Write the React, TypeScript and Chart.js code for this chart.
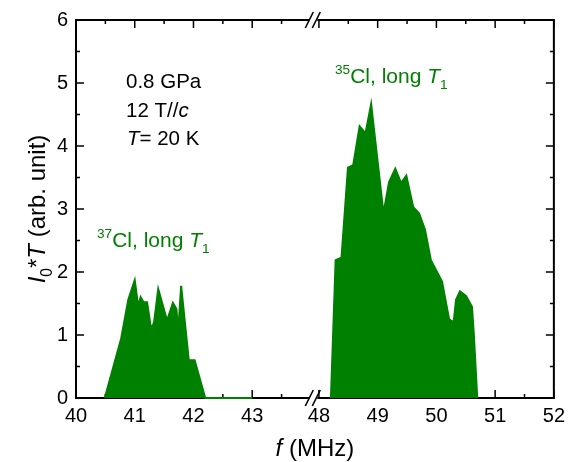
import React, { useEffect, useRef } from 'react';
import { Chart, registerables } from 'chart.js';

Chart.register(...registerables);

// ---- Data ----
// 37Cl line, long T1
const freq37 = [40.49, 40.77, 40.89, 41.0, 41.06, 41.1, 41.15, 41.21, 41.27, 41.3, 41.33, 41.4, 41.55, 41.65, 41.71, 41.74, 41.79, 41.92, 42.02, 42.2, 43.0];
const int37 = [0, 0.95, 1.56, 1.87, 1.45, 1.6, 1.52, 1.52, 1.15, 1.13, 1.21, 1.73, 1.23, 1.51, 1.41, 1.05, 1.78, 0.6, 0.6, 0, 0];
// 35Cl line, long T1
const freq35 = [48.2, 48.28, 48.38, 48.49, 48.58, 48.69, 48.79, 48.89, 49.1, 49.19, 49.3, 49.4, 49.49, 49.61, 49.71, 49.81, 49.91, 50.1, 50.22, 50.29, 50.33, 50.4, 50.51, 50.61, 50.64, 50.7];
const int35 = [0, 2.19, 2.23, 3.66, 3.7, 4.32, 4.21, 4.69, 2.96, 3.43, 3.65, 3.42, 3.54, 3.03, 2.93, 2.67, 2.19, 1.85, 1.25, 1.21, 1.56, 1.7, 1.62, 1.45, 1.03, 0];

// Axis ticks (broken x axis: 40–43 | 48–52)
const xMajorTicks = [40, 41, 42, 43, 48, 49, 50, 51, 52];
const xMinorTicks = [40.5, 41.5, 42.5, 43.5, 48.5, 49.5, 50.5, 51.5];
const yMajorTicks = [0, 1, 2, 3, 4, 5, 6];
const yMinorTicks = [0.5, 1.5, 2.5, 3.5, 4.5, 5.5];

// Axis break geometry (in frequency units)
const LEFT_END = 44.0; // left segment ends here
const BREAK_AT = 44.04; // where the // mark sits (axis units)
const RIGHT_START = 48; // right segment begins at this frequency
const RIGHT_POS = 44.136; // axis position of RIGHT_START
const toAxis = (f: number) => (f <= LEFT_END + 1 ? f : f - RIGHT_START + RIGHT_POS);

const GREEN = '#008000';
const FONT = '"Liberation Sans", Arial, sans-serif';

type Seg = { t: string; italic?: boolean; script?: 'sup' | 'sub' };

function drawRich(ctx: CanvasRenderingContext2D, segs: Seg[], x: number, y: number, size: number, align: 'left' | 'center', color: string) {
  const parts = segs.map((s) => {
    const fs = s.script ? size * 0.65 : size;
    const font = `${s.italic ? 'italic ' : ''}${fs}px ${FONT}`;
    ctx.font = font;
    const w = ctx.measureText(s.t).width;
    const dy = s.script === 'sup' ? -size * 0.42 : s.script === 'sub' ? size * 0.3 : 0;
    return { t: s.t, font, w, dy };
  });
  const total = parts.reduce((a, p) => a + p.w, 0);
  let cx = align === 'center' ? x - total / 2 : x;
  ctx.fillStyle = color;
  ctx.textAlign = 'left';
  ctx.textBaseline = 'alphabetic';
  parts.forEach((p) => {
    ctx.font = p.font;
    ctx.fillText(p.t, cx, y + p.dy);
    cx += p.w;
  });
}

const framePlugin = {
  id: 'frame',
  beforeDatasetsDraw(chart: any) {
    const { ctx, chartArea: a, scales } = chart;
    const xs = scales.x;
    const ys = scales.y;
    const bx = xs.getPixelForValue(BREAK_AT);
    ctx.save();
    ctx.strokeStyle = '#000';
    ctx.lineCap = 'butt';
    // frame
    ctx.lineWidth = 2;
    ctx.beginPath();
    ctx.moveTo(a.left, a.top);
    ctx.lineTo(a.left, a.bottom);
    ctx.moveTo(a.right, a.top);
    ctx.lineTo(a.right, a.bottom);
    for (const yy of [a.top, a.bottom]) {
      ctx.moveTo(a.left - 1, yy);
      ctx.lineTo(bx - 4, yy);
      ctx.moveTo(bx + 4, yy);
      ctx.lineTo(a.right + 1, yy);
    }
    ctx.stroke();
    // break marks
    ctx.lineWidth = 1.6;
    ctx.beginPath();
    for (const yy of [a.top, a.bottom]) {
      for (const off of [-4, 3]) {
        ctx.moveTo(bx + off - 4, yy + 8);
        ctx.lineTo(bx + off + 4, yy - 8);
      }
    }
    ctx.stroke();
    // ticks
    ctx.lineWidth = 1.5;
    ctx.beginPath();
    const xt = (vals: number[], len: number) => {
      vals.forEach((f) => {
        const px = xs.getPixelForValue(toAxis(f));
        ctx.moveTo(px, a.bottom);
        ctx.lineTo(px, a.bottom - len);
        ctx.moveTo(px, a.top);
        ctx.lineTo(px, a.top + len);
      });
    };
    const yt = (vals: number[], len: number) => {
      vals.forEach((v) => {
        const py = ys.getPixelForValue(v);
        ctx.moveTo(a.left, py);
        ctx.lineTo(a.left + len, py);
        ctx.moveTo(a.right, py);
        ctx.lineTo(a.right - len, py);
      });
    };
    xt(xMajorTicks, 8);
    xt(xMinorTicks, 4);
    yt(yMajorTicks, 8);
    yt(yMinorTicks, 4);
    ctx.stroke();
    ctx.restore();
  },
  afterDraw(chart: any) {
    const { ctx, chartArea: a } = chart;
    ctx.save();
    // conditions
    drawRich(ctx, [{ t: '0.8 GPa' }], 126, 88, 20.5, 'left', '#000');
    drawRich(ctx, [{ t: '12 T//' }, { t: 'c', italic: true }], 126, 117, 20.5, 'left', '#000');
    drawRich(ctx, [{ t: 'T', italic: true }, { t: '= 20 K' }], 127, 145, 20.5, 'left', '#000');
    // peak labels
    drawRich(ctx, [{ t: '37', script: 'sup' }, { t: 'Cl, long ' }, { t: 'T', italic: true }, { t: '1', script: 'sub' }], 97, 247, 21, 'left', GREEN);
    drawRich(ctx, [{ t: '35', script: 'sup' }, { t: 'Cl, long ' }, { t: 'T', italic: true }, { t: '1', script: 'sub' }], 335, 83, 21, 'left', GREEN);
    // x title
    drawRich(ctx, [{ t: 'f', italic: true }, { t: ' (MHz)' }], (a.left + a.right) / 2, 456, 24, 'center', '#000');
    // y title
    ctx.translate(45, (a.top + a.bottom) / 2);
    ctx.rotate(-Math.PI / 2);
    drawRich(ctx, [{ t: 'I', italic: true }, { t: '0', script: 'sub' }, { t: '*' }, { t: 'T', italic: true }, { t: ' (arb. unit)' }], 0, 0, 24, 'center', '#000');
    ctx.restore();
  },
};

export default function App() {
  const ref = useRef<HTMLCanvasElement | null>(null);
  useEffect(() => {
    if (!ref.current) return;
    const mk = (fs: number[], vs: number[]) => fs.map((f, i) => ({ x: toAxis(f), y: vs[i] }));
    const chart = new Chart(ref.current, {
      type: 'line',
      data: {
        datasets: [
          {
            data: mk(freq37, int37),
            borderColor: GREEN,
            backgroundColor: GREEN,
            borderWidth: 2,
            fill: 'origin',
            pointRadius: 0,
            tension: 0,
            clip: false,
          },
          {
            data: mk(freq35, int35),
            borderColor: GREEN,
            backgroundColor: GREEN,
            borderWidth: 1.5,
            fill: 'origin',
            pointRadius: 0,
            tension: 0,
            clip: false,
          },
        ],
      },
      options: {
        animation: false,
        responsive: false,
        events: [],
        layout: { padding: { top: 20, right: 15, left: 0, bottom: 0 } },
        plugins: { legend: { display: false }, tooltip: { enabled: false } },
        scales: {
          x: {
            type: 'linear',
            min: 40,
            max: toAxis(52),
            grid: { display: false, drawTicks: false },
            border: { display: false },
            afterFit: (s: any) => {
              s.height = 64;
            },
            afterBuildTicks: (s: any) => {
              s.ticks = xMajorTicks.map((f) => ({ value: toAxis(f) }));
            },
            ticks: {
              autoSkip: false,
              maxRotation: 0,
              padding: 6,
              color: '#000',
              font: { family: FONT, size: 20 },
              callback: (_v: any, i: number) => String(xMajorTicks[i]),
            },
          },
          y: {
            type: 'linear',
            min: 0,
            max: 6,
            grid: { display: false, drawTicks: false },
            border: { display: false },
            afterFit: (s: any) => {
              s.width = 76;
            },
            afterBuildTicks: (s: any) => {
              s.ticks = yMajorTicks.map((v) => ({ value: v }));
            },
            ticks: {
              padding: 8,
              color: '#000',
              font: { family: FONT, size: 20 },
              callback: (v: any) => String(v),
            },
          },
        },
      },
      plugins: [framePlugin],
    });
    return () => chart.destroy();
  }, []);
  return (
    <div style={{ position: 'absolute', left: 0, top: 0, width: 571, height: 462, background: '#fff' }}>
      <canvas ref={ref} width={571} height={462} style={{ display: 'block' }} />
    </div>
  );
}
